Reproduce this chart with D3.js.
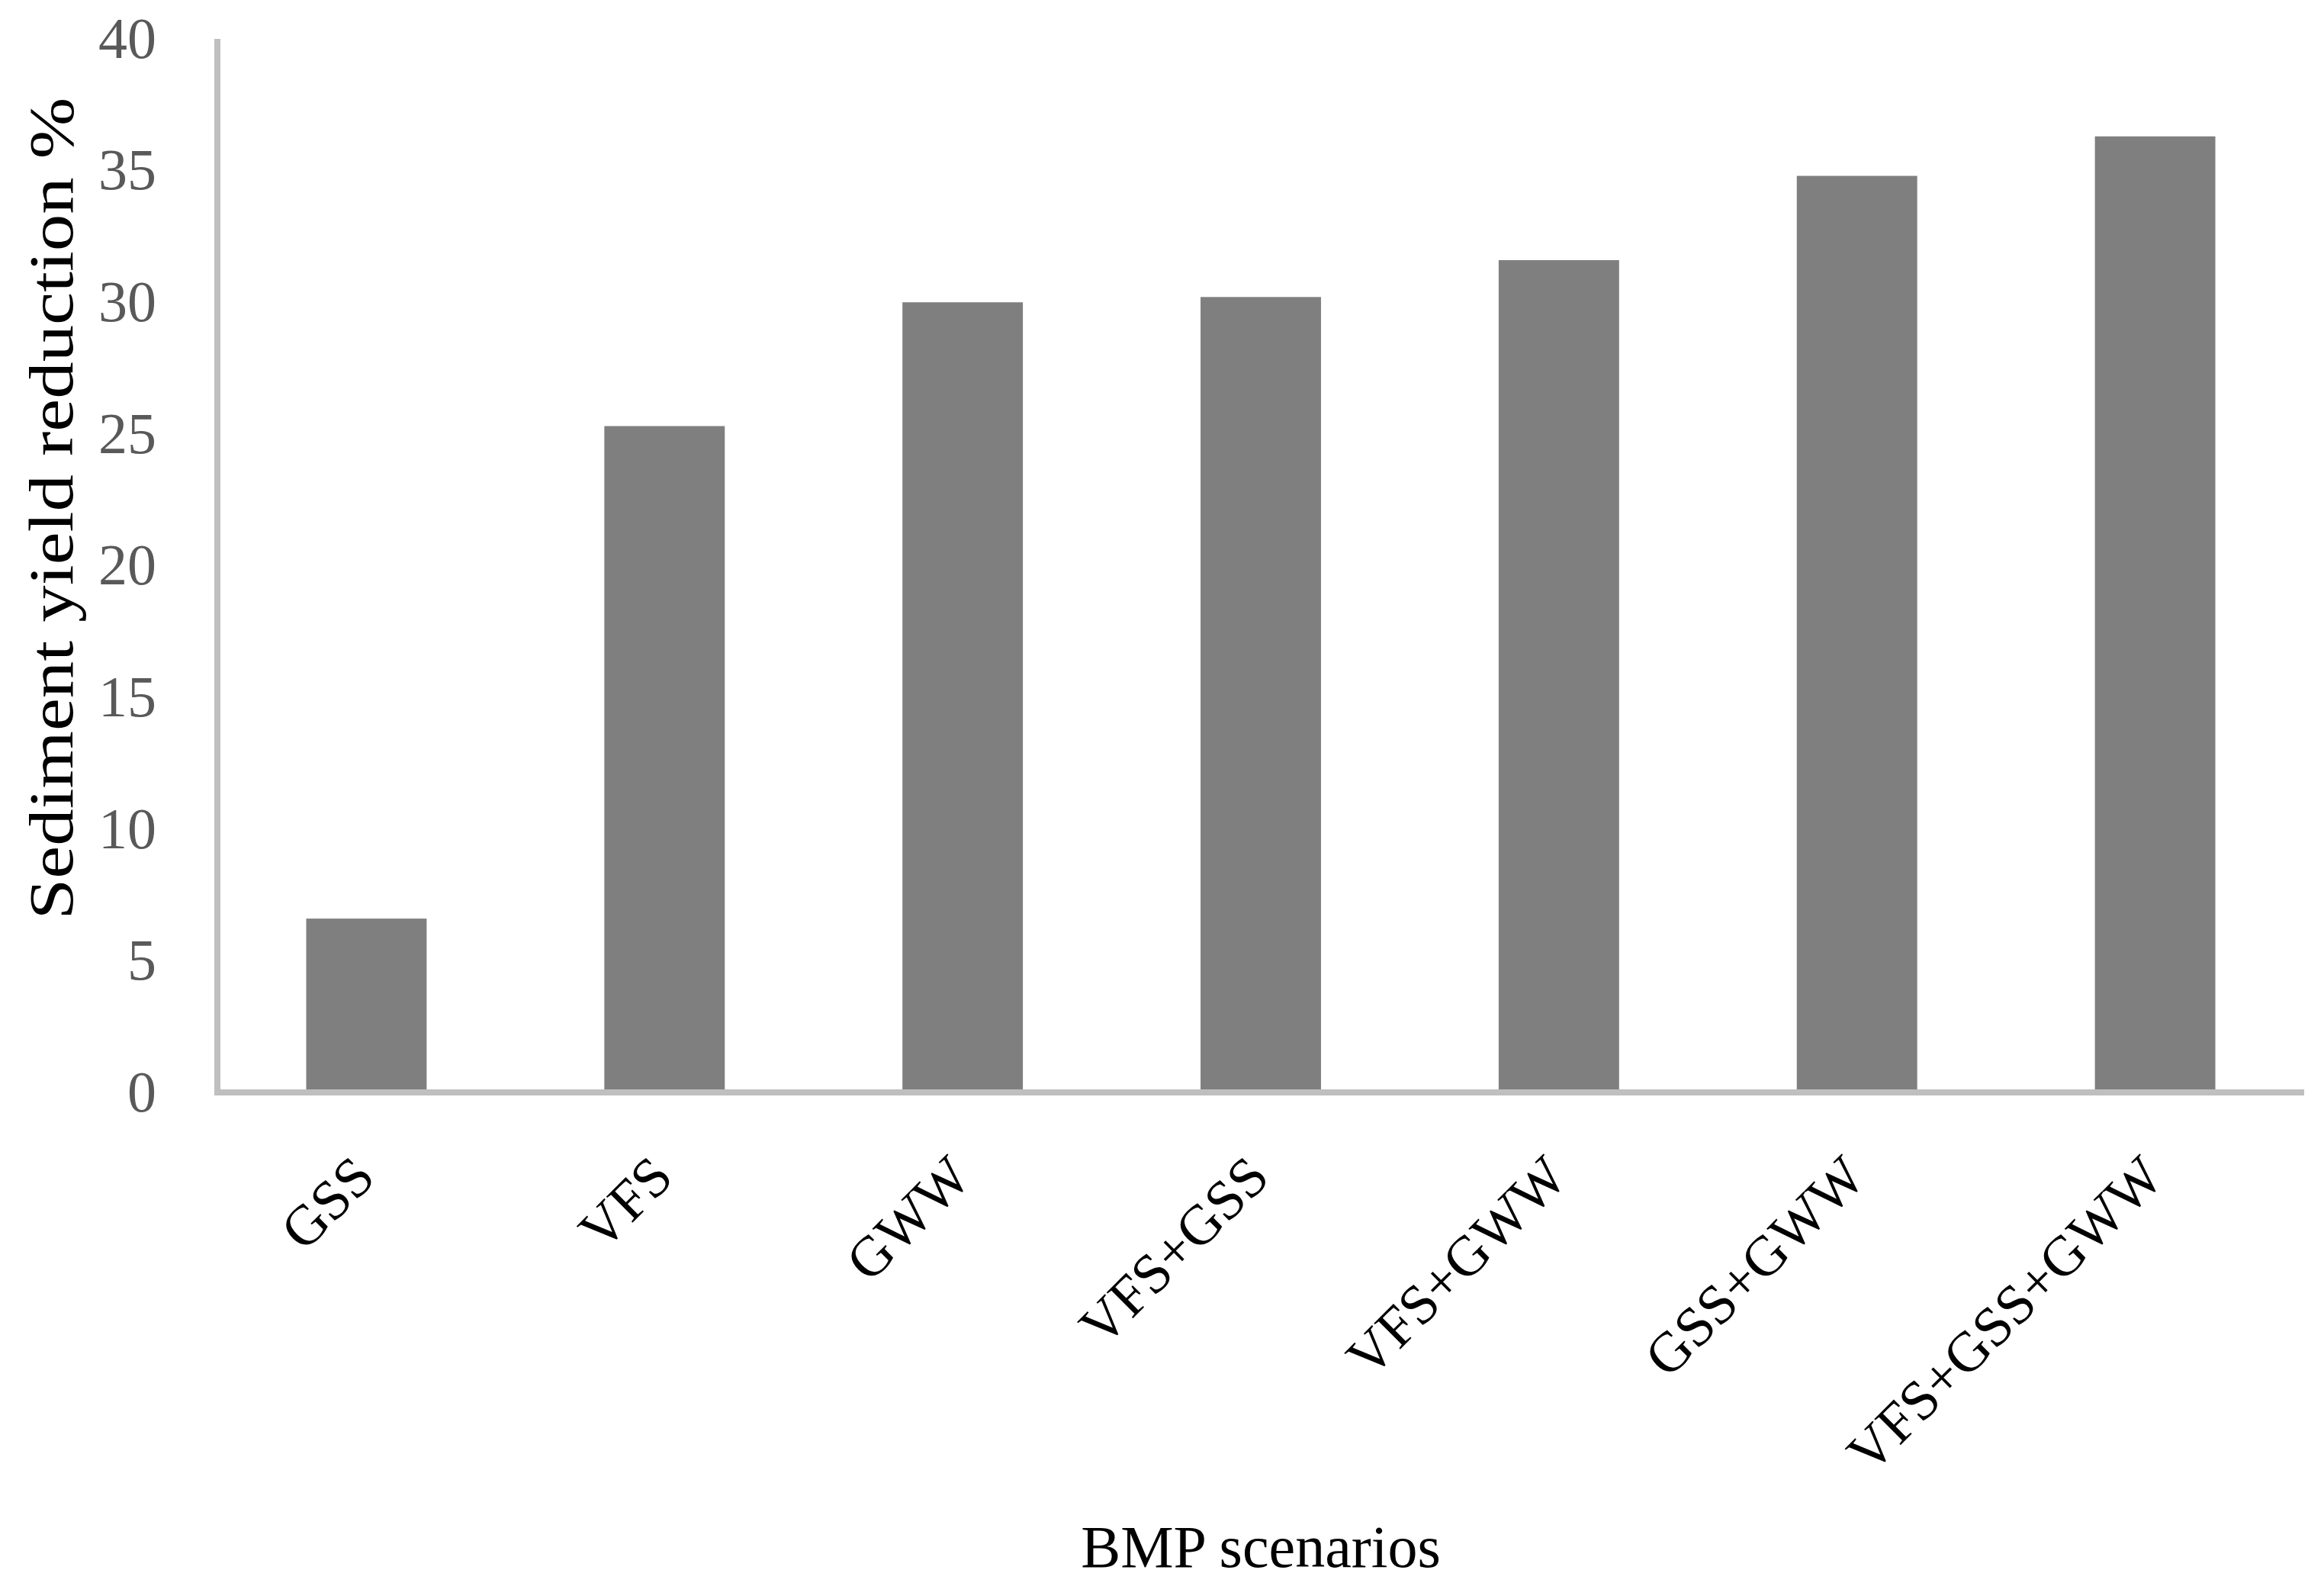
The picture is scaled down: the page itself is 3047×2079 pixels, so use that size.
<!DOCTYPE html>
<html>
<head>
<meta charset="utf-8">
<script src="https://cdn.jsdelivr.net/npm/d3@7"></script>
<style>
  html, body { margin: 0; padding: 0; background: #fff; }
  svg { display: block; }
</style>
</head>
<body>
<script>
const categories = ["GSS", "VFS", "GWW", "VFS+GSS", "VFS+GWW", "GSS+GWW", "VFS+GSS+GWW"];
const values = [6.6, 25.3, 30.0, 30.2, 31.6, 34.8, 36.3];
const yTicks = [0, 5, 10, 15, 20, 25, 30, 35, 40];
const yTitle = "Sediment yield reduction %";
const xTitle = "BMP scenarios";

const W = 3047, H = 2079;
const FONT = "'Liberation Serif', 'Times New Roman', serif";

const svg = d3.select("body").append("svg")
  .attr("width", W).attr("height", H)
  .style("background", "#fff");

const x = d3.scaleBand().domain(categories)
  .range([285, 3021])
  .paddingInner(0.596).paddingOuter(0.298);
const y = d3.scaleLinear().domain([0, 40]).range([1432, 51]);

// bars
svg.append("g").selectAll("rect")
  .data(categories.map((c, i) => ({ c, v: values[i] })))
  .join("rect")
  .attr("x", d => x(d.c))
  .attr("width", x.bandwidth())
  .attr("y", d => y(d.v))
  .attr("height", d => y(0) - y(d.v))
  .attr("fill", "#7f7f7f");

// y axis
const gy = svg.append("g").attr("transform", "translate(285,0)")
  .call(d3.axisLeft(y).tickValues(yTicks).tickSize(0).tickSizeOuter(0).tickPadding(80));
gy.select(".domain").attr("stroke", "#bfbfbf").attr("stroke-width", 8)
  .attr("d", `M0,${y(40)}V${y(0) + 4}`);
gy.selectAll(".tick text")
  .attr("fill", "#595959")
  .style("font-family", FONT)
  .style("font-size", "76px");

// x axis
const gx = svg.append("g").attr("transform", `translate(0,${y(0)})`)
  .call(d3.axisBottom(x).tickSize(0).tickSizeOuter(0));
gx.select(".domain").attr("stroke", "#bfbfbf").attr("stroke-width", 8)
  .attr("d", `M${x.range()[0] - 4},0H${x.range()[1]}`);
gx.selectAll(".tick text")
  .attr("fill", "#000")
  .attr("y", 0).attr("x", 0).attr("dy", "0.35em")
  .attr("text-anchor", "end")
  .attr("transform", "translate(-4,96) rotate(-45)")
  .style("font-family", FONT)
  .style("font-size", "74px");

// axis titles
svg.append("text")
  .attr("transform", `translate(66,${(y(0) + y(40)) / 2 - 75}) rotate(-90)`)
  .attr("text-anchor", "middle")
  .attr("dy", "0.35em")
  .attr("fill", "#000")
  .attr("textLength", 1078)
  .attr("lengthAdjust", "spacingAndGlyphs")
  .style("font-family", FONT)
  .style("font-size", "82px")
  .text(yTitle);

svg.append("text")
  .attr("x", (x.range()[0] + x.range()[1]) / 2)
  .attr("y", 2054)
  .attr("text-anchor", "middle")
  .attr("fill", "#000")
  .style("font-family", FONT)
  .style("font-size", "78px")
  .text(xTitle);
</script>
</body>
</html>
